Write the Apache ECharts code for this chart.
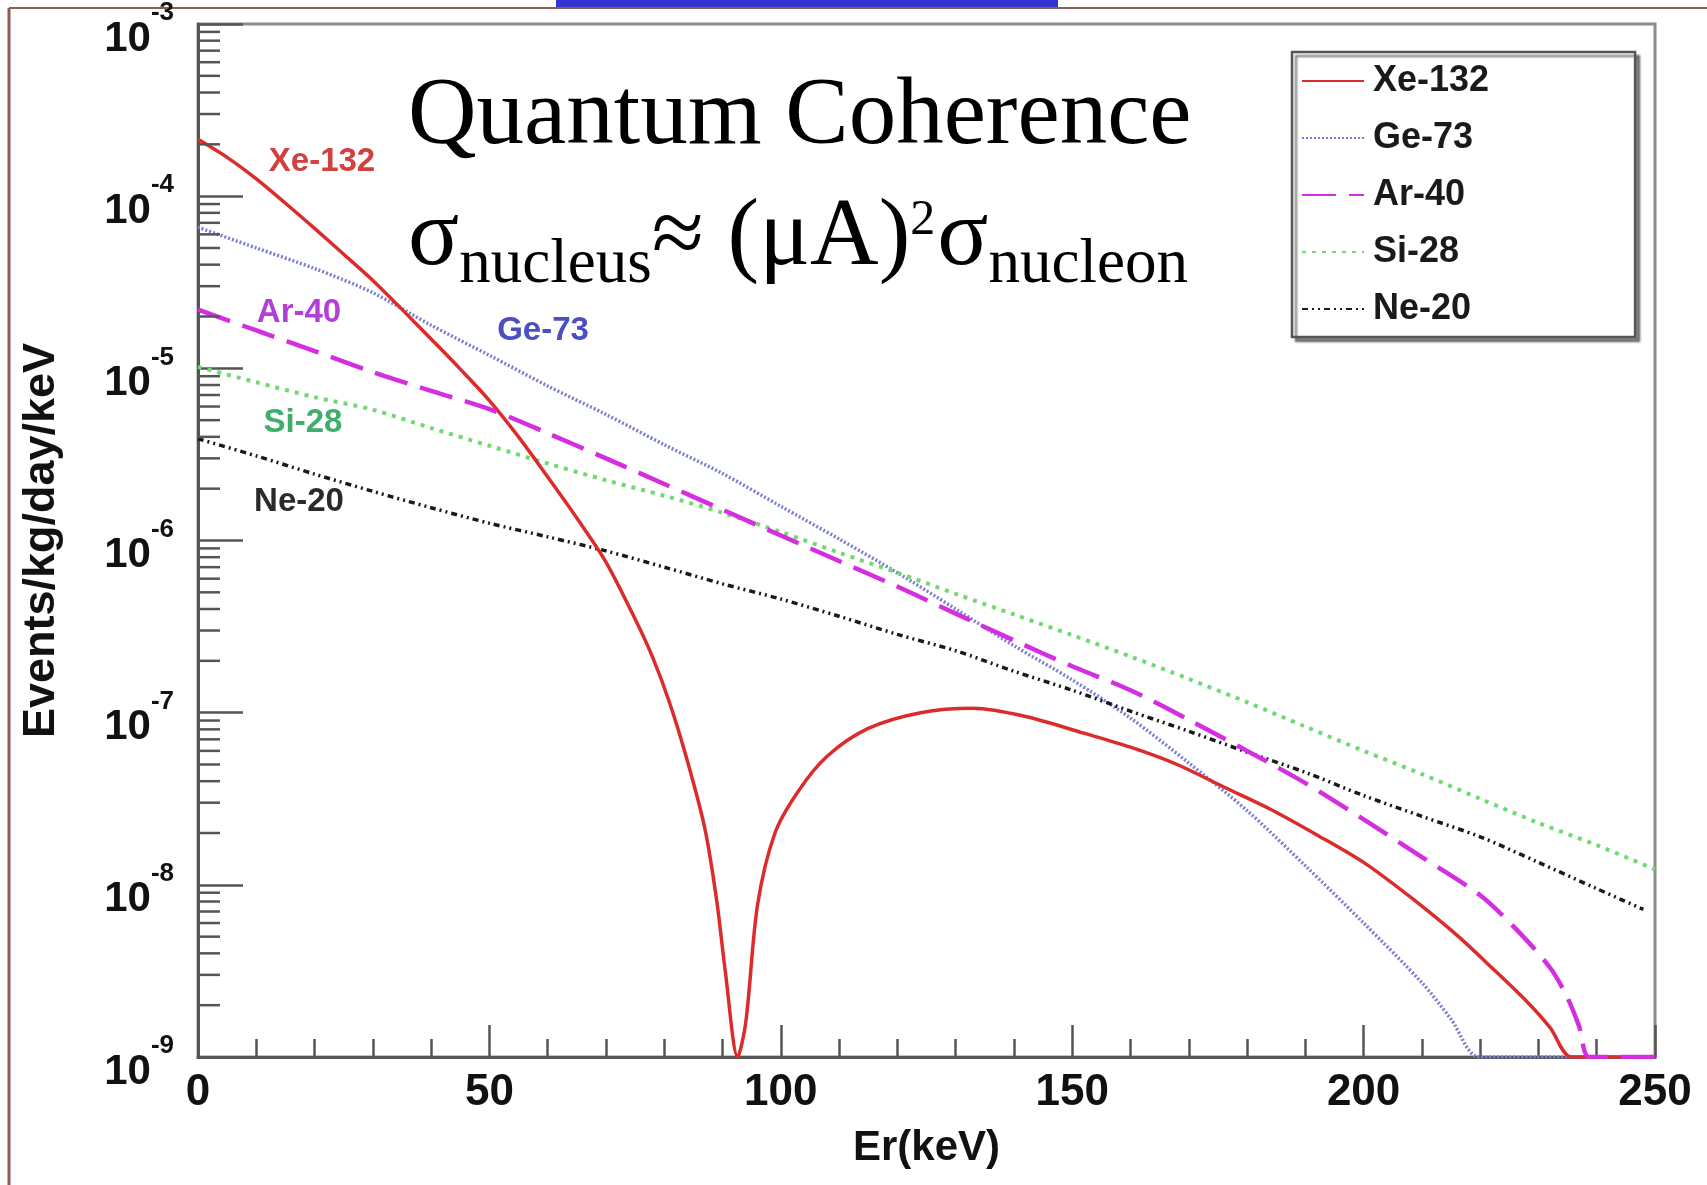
<!DOCTYPE html>
<html>
<head>
<meta charset="utf-8">
<script src="https://cdn.jsdelivr.net/npm/echarts@6/dist/echarts.min.js"></script>
<style>
html,body{margin:0;padding:0;background:#ffffff;}
#chart{width:1707px;height:1185px;}
</style>
</head>
<body>
<div id="chart"></div>
<script>
// ---------- data ----------
const seriesNames = ['Xe-132', 'Ge-73', 'Ar-40', 'Si-28', 'Ne-20'];

const xeX = [0,5,10,15,20,25,30,35,40,45,50,55,60,65,70,75,78,81,84,87,89,90.5,92.6,94,96,99,103,108,115,124,133,142,152,160,168,176,184,192,200,208,216,222,228,232,235.6,240,250];
const xeY = [2.14e-4,1.68e-4,1.26e-4,9.1e-5,6.5e-5,4.6e-5,3.24e-5,2.2e-5,1.48e-5,9.9e-6,6.5e-6,4.0e-6,2.34e-6,1.35e-6,7.5e-7,3.5e-7,2.1e-7,1.12e-7,5.2e-8,2.1e-8,8.1e-9,3.1e-9,1e-9,1.6e-9,7.6e-9,2.0e-8,3.5e-8,5.6e-8,8.1e-8,1.0e-7,1.06e-7,9.5e-8,7.6e-8,6.3e-8,5.0e-8,3.7e-8,2.75e-8,1.95e-8,1.35e-8,8.5e-9,5.1e-9,3.3e-9,2.1e-9,1.48e-9,1e-9,1e-9,1e-9];

const geX = [0,10,20,30,40,50,60,70,80,90,100,110,120,130,140,150,160,170,180,190,200,210,215,219.8,230,240,250];
const geY = [6.6e-5,5.0e-5,3.8e-5,2.75e-5,1.78e-5,1.19e-5,7.9e-6,5.4e-6,3.6e-6,2.45e-6,1.58e-6,1.02e-6,6.5e-7,4.0e-7,2.45e-7,1.55e-7,9.3e-8,5.1e-8,2.7e-8,1.29e-8,6.0e-9,2.7e-9,1.66e-9,1e-9,1e-9,1e-9,1e-9];

const arX = [0,10,20,30,40,50,60,70,80,90,100,110,120,130,140,150,160,170,180,190,200,210,220,226,232,235,237,238.7,245,250];
const arY = [2.19e-5,1.66e-5,1.26e-5,9.5e-6,7.4e-6,5.8e-6,4.2e-6,3.0e-6,2.13e-6,1.51e-6,1.07e-6,7.6e-7,5.4e-7,3.76e-7,2.63e-7,1.86e-7,1.35e-7,9.1e-8,6.0e-8,3.9e-8,2.4e-8,1.45e-8,8.7e-9,5.6e-9,3.3e-9,2.2e-9,1.5e-9,1e-9,1e-9,1e-9];

const siX = [0,10,20,30,40,50,60,70,80,90,100,110,120,130,140,150,160,170,180,190,200,210,220,230,240,250];
const siY = [1.02e-5,8.3e-6,6.8e-6,5.75e-6,4.5e-6,3.55e-6,2.8e-6,2.24e-6,1.82e-6,1.45e-6,1.12e-6,8.5e-7,6.5e-7,4.9e-7,3.72e-7,2.82e-7,2.12e-7,1.57e-7,1.15e-7,8.3e-8,6.0e-8,4.4e-8,3.16e-8,2.29e-8,1.7e-8,1.23e-8];

const neX = [0,10,20,30,40,50,60,70,80,90,100,110,120,130,140,150,160,170,180,190,200,210,220,230,240,248];
const neY = [3.9e-6,3.1e-6,2.43e-6,1.93e-6,1.55e-6,1.26e-6,1.05e-6,8.7e-7,7.0e-7,5.6e-7,4.57e-7,3.63e-7,2.85e-7,2.29e-7,1.74e-7,1.35e-7,1.02e-7,7.8e-8,5.9e-8,4.5e-8,3.3e-8,2.5e-8,1.9e-8,1.35e-8,9.5e-9,7.2e-9];

const xTickLabels = ['0','50','100','150','200','250'];
const yDecades = [1e-9,1e-8,1e-7,1e-6,1e-5,1e-4,1e-3];
const yExponents = ['-9','-8','-7','-6','-5','-4','-3'];
const minorMantissas = [2,3,4,5,6,7,8,9];

// ---------- chart ----------
const SANS = "'Liberation Sans', Arial, Helvetica, sans-serif";
const SERIF = "'Liberation Serif', 'Times New Roman', serif";

function zip(xs, ys) { return xs.map((x, i) => [x, ys[i]]); }

const minorTickData = [];
for (let d = 0; d < yDecades.length - 1; d++) {
  for (const m of minorMantissas) minorTickData.push([0, m * yDecades[d]]);
}

const chart = echarts.init(document.getElementById('chart'), null, {renderer: 'canvas'});

const lineBase = {type: 'line', showSymbol: false, symbol: 'none', smooth: 0.3, animation: false, silent: true};

chart.setOption({
  backgroundColor: '#ffffff',
  animation: false,
  grid: {left: 198, right: 52, top: 23, bottom: 128, show: true, borderColor: '#8c8c8c', borderWidth: 3, backgroundColor: 'transparent'},
  legend: {
    data: seriesNames,
    orient: 'vertical',
    left: 1292, top: 52,
    itemWidth: 62, itemHeight: 14, itemGap: 17,
    padding: [9, 146, 8, 9],
    borderColor: '#555', borderWidth: 2.5,
    backgroundColor: '#ffffff',
    shadowColor: 'rgba(0,0,0,0.45)', shadowBlur: 2, shadowOffsetX: 4, shadowOffsetY: 4,
    itemStyle: {opacity: 0},
    textStyle: {fontSize: 36, fontWeight: 'bold', color: '#1a1a1a', fontFamily: SANS, lineHeight: 40, padding: [0, 0, 0, 4]},
    selectedMode: false
  },
  xAxis: {
    type: 'value', min: 0, max: 250, interval: 50,
    name: 'Er(keV)', nameLocation: 'middle', nameGap: 70,
    nameTextStyle: {fontSize: 42, fontWeight: 'bold', color: '#111', fontFamily: SANS},
    axisLine: {show: true, lineStyle: {color: '#555', width: 3}},
    axisTick: {show: true, inside: true, length: 32, lineStyle: {color: '#555', width: 2.5}},
    minorTick: {show: true, splitNumber: 5, length: 18, lineStyle: {color: '#555', width: 2.5}},
    splitLine: {show: false}, minorSplitLine: {show: false},
    axisLabel: {margin: 14, fontSize: 44, fontWeight: 'bold', color: '#111', fontFamily: SANS,
      formatter: v => xTickLabels[Math.round(v / 50)]}
  },
  yAxis: {
    type: 'log', logBase: 10, min: 1e-9, max: 1e-3, splitNumber: 6,
    name: 'Events/kg/day/keV', nameLocation: 'middle', nameGap: 134,
    nameTextStyle: {fontSize: 45, fontWeight: 'bold', color: '#111', fontFamily: SANS},
    axisLine: {show: true, lineStyle: {color: '#555', width: 3}},
    axisTick: {show: true, inside: true, length: 45, lineStyle: {color: '#555', width: 2.5}},
    splitLine: {show: false},
    axisLabel: {
      margin: 24, padding: [12, 0, 0, 0],
      formatter: v => {
        const e = Math.round(Math.log10(v));
        const idx = yDecades.findIndex(d => Math.round(Math.log10(d)) === e);
        return '{b|10}{s|' + yExponents[idx] + '}';
      },
      rich: {
        b: {fontSize: 42, fontWeight: 'bold', color: '#111', fontFamily: SANS, lineHeight: 60, verticalAlign: 'bottom'},
        s: {fontSize: 26, fontWeight: 'bold', color: '#111', fontFamily: SANS, lineHeight: 60, verticalAlign: 'top'}
      }
    }
  },
  series: [
    Object.assign({}, lineBase, {name: 'Xe-132', data: zip(xeX, xeY), z: 3,
      itemStyle: {color: '#dc2b2b'}, lineStyle: {color: '#dc2b2b', width: 3.5, type: 'solid'}}),
    Object.assign({}, lineBase, {name: 'Ge-73', data: zip(geX, geY), z: 2,
      itemStyle: {color: '#7a7ed4'}, lineStyle: {color: '#7a7ed4', width: 3.5, type: [2, 2]}}),
    Object.assign({}, lineBase, {name: 'Si-28', data: zip(siX, siY), z: 2,
      itemStyle: {color: '#72d872'}, lineStyle: {color: '#72d872', width: 4, type: [4, 6]}}),
    Object.assign({}, lineBase, {name: 'Ne-20', data: zip(neX, neY), z: 2,
      itemStyle: {color: '#1a1a1a'}, lineStyle: {color: '#1a1a1a', width: 3.5, type: [6, 4, 2, 4, 2, 4]}}),
    Object.assign({}, lineBase, {name: 'Ar-40', data: zip(arX, arY), z: 4,
      itemStyle: {color: '#d42ee0'}, lineStyle: {color: '#d42ee0', width: 4.5, type: [34, 13]}}),
    {
      type: 'custom', silent: true, clip: false, z: 5, animation: false,
      data: minorTickData,
      renderItem: function (params, api) {
        const p = api.coord([0, api.value(1)]);
        return {type: 'line', shape: {x1: p[0], y1: p[1], x2: p[0] + 22, y2: p[1]},
          style: {stroke: '#555', lineWidth: 2.5}};
      }
    }
  ],
  graphic: [
    {type: 'rect', shape: {x: 556, y: 0, width: 502, height: 7}, style: {fill: '#3434d4'}, silent: true},
    {type: 'line', shape: {x1: 9, y1: 8, x2: 1707, y2: 8}, style: {stroke: '#8e5c54', lineWidth: 2}, silent: true},
    {type: 'line', shape: {x1: 9, y1: 8, x2: 9, y2: 1185}, style: {stroke: '#8e5c54', lineWidth: 3}, silent: true},
    {type: 'text', x: 408, y: 118, silent: true, z: 10,
      style: {text: 'Quantum Coherence', fontSize: 95, fontFamily: SERIF, fill: '#000', align: 'left', verticalAlign: 'middle'}},
    {type: 'text', x: 408, y: 174, silent: true, z: 10,
      style: {
        text: '{m|σ}{b|nucleus}{m|≈ (μA)}{p|2}{m|σ}{b|nucleon}',
        align: 'left', verticalAlign: 'top',
        rich: {
          m: {fontSize: 95, fontFamily: SERIF, fill: '#000', color: '#000', lineHeight: 130, verticalAlign: 'middle'},
          b: {fontSize: 63, fontFamily: SERIF, fill: '#000', color: '#000', lineHeight: 130, verticalAlign: 'bottom', padding: [0, 0, 7, 0]},
          p: {fontSize: 50, fontFamily: SERIF, fill: '#000', color: '#000', lineHeight: 130, verticalAlign: 'top', padding: [22, 2, 0, 0]}
        }
      }},
    {type: 'text', x: 322, y: 162, silent: true, style: {text: 'Xe-132', fontSize: 33, fontWeight: 'bold', fontFamily: SANS, fill: '#d2403f', align: 'center', verticalAlign: 'middle'}},
    {type: 'text', x: 299, y: 313, silent: true, style: {text: 'Ar-40', fontSize: 33, fontWeight: 'bold', fontFamily: SANS, fill: '#b43fd6', align: 'center', verticalAlign: 'middle'}},
    {type: 'text', x: 543, y: 331, silent: true, style: {text: 'Ge-73', fontSize: 33, fontWeight: 'bold', fontFamily: SANS, fill: '#4a4fc2', align: 'center', verticalAlign: 'middle'}},
    {type: 'text', x: 303, y: 423, silent: true, style: {text: 'Si-28', fontSize: 33, fontWeight: 'bold', fontFamily: SANS, fill: '#3fae6c', align: 'center', verticalAlign: 'middle'}},
    {type: 'text', x: 299, y: 502, silent: true, style: {text: 'Ne-20', fontSize: 33, fontWeight: 'bold', fontFamily: SANS, fill: '#2a2a2a', align: 'center', verticalAlign: 'middle'}}
  ]
});
</script>
</body>
</html>
